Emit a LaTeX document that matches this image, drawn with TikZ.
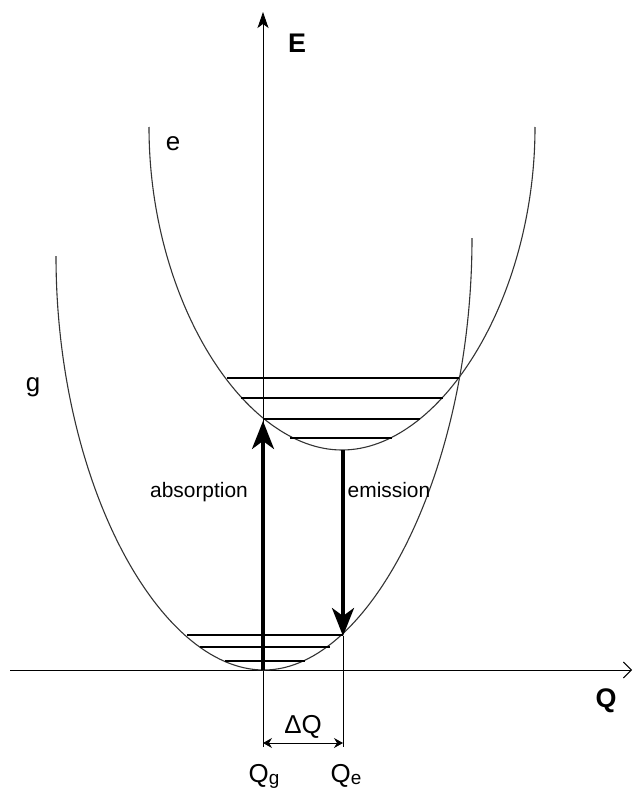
\documentclass[tikz,border=0pt]{standalone}
\usepackage{fontspec}
\setmainfont{Liberation Sans}
\usetikzlibrary{arrows.meta}
\begin{document}
\begin{tikzpicture}[x=1bp,y=-1bp,
  thinline/.style={line width=0.9bp,black},
  curve/.style={line width=1.1bp,black!80},
  levelline/.style={line width=1.1bp,black},
  transition/.style={line width=3.6bp,-{Stealth[length=28bp,width=22bp,inset=8bp]}},
  biglab/.style={font=\fontsize{26}{30}\selectfont,anchor=base,inner sep=0pt},
  boldlab/.style={font=\bfseries\fontsize{27}{30}\selectfont,anchor=base,inner sep=0pt},
  smalllab/.style={font=\fontsize{21}{25}\selectfont,anchor=base,inner sep=0pt}
]
\useasboundingbox (0,0) rectangle (635,790);

% coordinates
\coordinate (O) at (263,670);
\coordinate (Etop) at (263,12);
\coordinate (Ebot) at (263,747);
\coordinate (Qleft) at (10,670);
\coordinate (Qright) at (632,670);
\coordinate (absTip) at (263,421);
\coordinate (emTop) at (343,450);
\coordinate (emTip) at (343,636);
\coordinate (extBot) at (343,747);
\coordinate (dL) at (263,743);
\coordinate (dR) at (343,743);

% axes
\draw[thinline,-{Stealth[length=16bp,width=11bp,inset=4bp]}] (Ebot) -- (Etop);
\draw[thinline,-{Straight Barb[length=8bp,width=16bp]}] (Qleft) -- (Qright);

% ground state curve g
\draw[curve] (56,256) .. controls (56,480) and (158,670) .. (264,670)
             .. controls (370,670) and (472,470) .. (472,238);

% excited state curve e
\draw[curve] (149,127) .. controls (149,300) and (244,450) .. (342,450)
             .. controls (440,450) and (535,300) .. (535,127);

% vibrational levels of g
\draw[levelline] (187,635) -- (343,635);
\draw[levelline] (200,647) -- (330,647);
\draw[levelline] (225,661) -- (305,661);

% vibrational levels of e
\draw[levelline] (227,378) -- (459,378);
\draw[levelline] (241,398) -- (443,398);
\draw[levelline] (263,419) -- (420,419);
\draw[levelline] (290,438) -- (392,438);

% transitions
\draw[transition] (O) -- (absTip);
\draw[transition] (emTop) -- (emTip);

% Delta Q dimension
\draw[thinline] (emTip) -- (extBot);
\draw[thinline,{Stealth[length=9bp,width=10bp,inset=3bp]}-{Stealth[length=9bp,width=10bp,inset=3bp]}] (dL) -- (dR);

% labels
\node[boldlab] (Elab) at (297,53) {E};
\node[boldlab] (Qlab) at (606,707) {Q};
\node[biglab] (elab) at (173,150) {e};
\node[biglab] (glab) at (33,391) {g};
\node[smalllab] (abslab) at (199,497) {absorption};
\node[smalllab] (emlab) at (389,497) {emission};
\node[biglab] (dQlab) at (303,733) {ΔQ};
\node[biglab] (Qglab) at (264,782) {Q\raisebox{-2bp}{\fontsize{19}{20}\selectfont g}};
\node[biglab] (Qelab) at (346,782) {Q\raisebox{-2bp}{\fontsize{19}{20}\selectfont e}};
\end{tikzpicture}
\end{document}
